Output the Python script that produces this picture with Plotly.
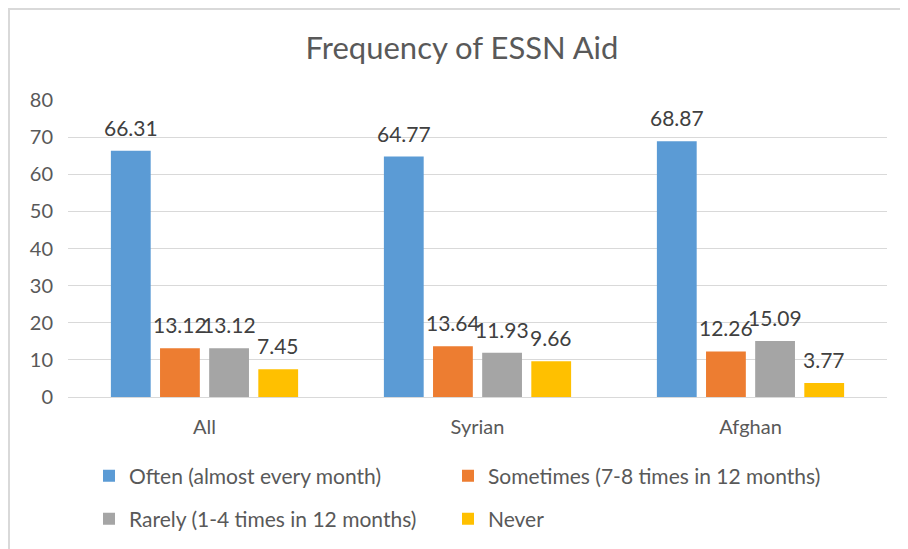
import plotly.graph_objects as go

categories = ["All", "Syrian", "Afghan"]
series_names = ["Often (almost every month)", "Sometimes (7-8 times in 12 months)",
                "Rarely (1-4 times in 12 months)", "Never"]
often = [66.31, 64.77, 68.87]
sometimes = [13.12, 13.64, 12.26]
rarely = [13.12, 11.93, 15.09]
never = [7.45, 9.66, 3.77]
y_ticks = [0, 10, 20, 30, 40, 50, 60, 70, 80]

colors = ["#5B9BD5", "#ED7D31", "#A5A5A5", "#FFC000"]
values = [often, sometimes, rarely, never]
legends = ["legend", "legend2", "legend3", "legend4"]
# legend positions (container pixels): left x, centre y
legend_pos = [(81, 468), (440, 468), (81, 511), (440, 511)]

FONT = "Lato, 'Open Sans', sans-serif"
W, H = 900, 541
L, R, T, B = 60, 21, 92, 152
BARGAP, GROUPGAP = 0.28, 0.19

fig = go.Figure()
for name, vals, col, lg in zip(series_names, values, colors, legends):
    fig.add_trace(go.Bar(
        x=categories, y=vals, name=name, marker_color=col,
        marker_line_width=0, legend=lg,
    ))

# data labels placed above each bar, offset by the group slot of each series
n = len(values)
slot = (1 - BARGAP) / n
for j, vals in enumerate(values):
    for i, v in enumerate(vals):
        fig.add_annotation(
            x=i + (j - (n - 1) / 2) * slot, y=v, xref="x", yref="y",
            text=f"{v:.2f}", showarrow=False, yanchor="bottom", yshift=9,
            font=dict(size=21, color="#404040", family=FONT),
        )

px2x = lambda px: (px - L) / (W - L - R)
px2y = lambda py: (H - B - py) / (H - T - B)

legend_layout = {}
for lg, (lx, ly) in zip(legends, legend_pos):
    legend_layout[lg] = dict(orientation="h", xref="container", yref="container",
                             x=lx / W, y=1 - ly / H, xanchor="left", yanchor="middle",
                             font=dict(size=21, color="#595959"), bgcolor="rgba(0,0,0,0)")

fig.update_layout(
    width=W, height=H,
    margin=dict(l=L, r=R, t=T, b=B),
    paper_bgcolor="white", plot_bgcolor="white",
    font=dict(family=FONT, color="#595959", size=20),
    title=dict(text="Frequency of ESSN Aid", x=454 / W, xref="container", xanchor="center",
               y=1 - 40 / H, yref="container", yanchor="middle",
               font=dict(size=31, color="#595959", family=FONT)),
    barmode="group", bargap=BARGAP, bargroupgap=GROUPGAP,
    xaxis=dict(showgrid=False, ticks="", showline=False, ticklabelstandoff=16,
               range=[-0.5, 2.5],
               tickfont=dict(size=20, color="#595959")),
    yaxis=dict(range=[0, 80], tickvals=y_ticks, showgrid=True, gridcolor="#D9D9D9",
               gridwidth=1, zeroline=True, zerolinecolor="#D9D9D9", zerolinewidth=1,
               ticks="", ticklabelstandoff=14, tickfont=dict(size=20, color="#595959")),
    showlegend=True,
    **legend_layout,
)

fig.add_shape(type="rect", xref="paper", yref="paper",
              x0=px2x(1), x1=px2x(920), y0=px2y(1), y1=px2y(570),
              line=dict(color="#D9D9D9", width=2), fillcolor="rgba(0,0,0,0)", layer="below")

fig.write_html("out.html")
